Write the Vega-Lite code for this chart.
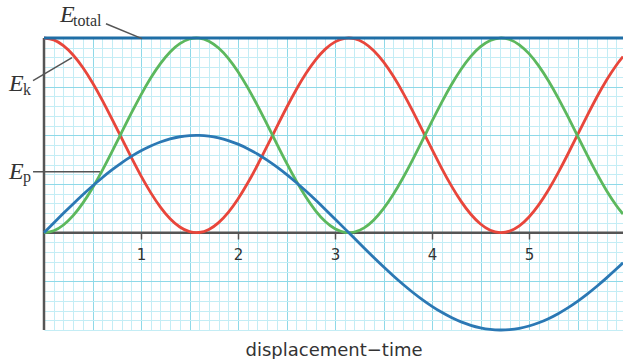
{
  "$schema": "https://vega.github.io/schema/vega-lite/v6.json",
  "width": 579,
  "height": 292,
  "autosize": {"type": "none"},
  "padding": {"left": 44, "top": 38, "right": 0, "bottom": 29},
  "background": "white",
  "config": {"view": {"stroke": null}},
  "datasets": {
    "curve": [
      {"x": 0.0, "ek": 2.0, "ep": 0.0, "d": 0.0},
      {"x": 0.1, "ek": 1.9801, "ep": 0.0199, "d": 0.0998},
      {"x": 0.2, "ek": 1.921, "ep": 0.079, "d": 0.1987},
      {"x": 0.3, "ek": 1.8254, "ep": 0.1746, "d": 0.2955},
      {"x": 0.4, "ek": 1.6967, "ep": 0.3033, "d": 0.3894},
      {"x": 0.5, "ek": 1.5403, "ep": 0.4597, "d": 0.4794},
      {"x": 0.6, "ek": 1.3625, "ep": 0.6375, "d": 0.5646},
      {"x": 0.7, "ek": 1.17, "ep": 0.83, "d": 0.6442},
      {"x": 0.8, "ek": 0.9707, "ep": 1.0293, "d": 0.7174},
      {"x": 0.9, "ek": 0.7729, "ep": 1.2271, "d": 0.7833},
      {"x": 1.0, "ek": 0.5838, "ep": 1.4162, "d": 0.8415},
      {"x": 1.1, "ek": 0.4115, "ep": 1.5885, "d": 0.8912},
      {"x": 1.2, "ek": 0.2628, "ep": 1.7372, "d": 0.932},
      {"x": 1.3, "ek": 0.1429, "ep": 1.8571, "d": 0.9636},
      {"x": 1.4, "ek": 0.058, "ep": 1.942, "d": 0.9854},
      {"x": 1.5, "ek": 0.01, "ep": 1.99, "d": 0.9975},
      {"x": 1.6, "ek": 0.0016, "ep": 1.9984, "d": 0.9996},
      {"x": 1.7, "ek": 0.0331, "ep": 1.9669, "d": 0.9917},
      {"x": 1.8, "ek": 0.1034, "ep": 1.8966, "d": 0.9738},
      {"x": 1.9, "ek": 0.209, "ep": 1.791, "d": 0.9463},
      {"x": 2.0, "ek": 0.3463, "ep": 1.6537, "d": 0.9093},
      {"x": 2.1, "ek": 0.5098, "ep": 1.4902, "d": 0.8632},
      {"x": 2.2, "ek": 0.6927, "ep": 1.3073, "d": 0.8085},
      {"x": 2.3, "ek": 0.8879, "ep": 1.1121, "d": 0.7457},
      {"x": 2.4, "ek": 1.0874, "ep": 0.9126, "d": 0.6755},
      {"x": 2.5, "ek": 1.2836, "ep": 0.7164, "d": 0.5985},
      {"x": 2.6, "ek": 1.4685, "ep": 0.5315, "d": 0.5155},
      {"x": 2.7, "ek": 1.6347, "ep": 0.3653, "d": 0.4274},
      {"x": 2.8, "ek": 1.7755, "ep": 0.2245, "d": 0.335},
      {"x": 2.9, "ek": 1.8856, "ep": 0.1144, "d": 0.2392},
      {"x": 3.0, "ek": 1.9602, "ep": 0.0398, "d": 0.1411},
      {"x": 3.1, "ek": 1.9965, "ep": 0.0035, "d": 0.0416},
      {"x": 3.2, "ek": 1.9932, "ep": 0.0068, "d": -0.0584},
      {"x": 3.3, "ek": 1.9503, "ep": 0.0497, "d": -0.1577},
      {"x": 3.4, "ek": 1.8694, "ep": 0.1306, "d": -0.2555},
      {"x": 3.5, "ek": 1.7539, "ep": 0.2461, "d": -0.3508},
      {"x": 3.6, "ek": 1.6084, "ep": 0.3916, "d": -0.4425},
      {"x": 3.7, "ek": 1.4386, "ep": 0.5614, "d": -0.5298},
      {"x": 3.8, "ek": 1.2512, "ep": 0.7488, "d": -0.6119},
      {"x": 3.9, "ek": 1.0539, "ep": 0.9461, "d": -0.6878},
      {"x": 4.0, "ek": 0.8545, "ep": 1.1455, "d": -0.7568},
      {"x": 4.1, "ek": 0.6608, "ep": 1.3392, "d": -0.8183},
      {"x": 4.2, "ek": 0.4806, "ep": 1.5194, "d": -0.8716},
      {"x": 4.3, "ek": 0.3212, "ep": 1.6788, "d": -0.9162},
      {"x": 4.4, "ek": 0.1889, "ep": 1.8111, "d": -0.9516},
      {"x": 4.5, "ek": 0.089, "ep": 1.911, "d": -0.9775},
      {"x": 4.6, "ek": 0.0251, "ep": 1.9749, "d": -0.9937},
      {"x": 4.7, "ek": 0.0004, "ep": 1.9996, "d": -0.9999},
      {"x": 4.8, "ek": 0.0152, "ep": 1.9848, "d": -0.9962},
      {"x": 4.9, "ek": 0.0694, "ep": 1.9306, "d": -0.9825},
      {"x": 5.0, "ek": 0.161, "ep": 1.839, "d": -0.9589},
      {"x": 5.1, "ek": 0.2858, "ep": 1.7142, "d": -0.9258},
      {"x": 5.2, "ek": 0.4389, "ep": 1.5611, "d": -0.8835},
      {"x": 5.3, "ek": 0.6146, "ep": 1.3854, "d": -0.8323},
      {"x": 5.4, "ek": 0.8056, "ep": 1.1944, "d": -0.7728},
      {"x": 5.5, "ek": 1.0045, "ep": 0.9955, "d": -0.7055},
      {"x": 5.6, "ek": 1.2029, "ep": 0.7971, "d": -0.6313},
      {"x": 5.7, "ek": 1.3935, "ep": 0.6065, "d": -0.5507},
      {"x": 5.8, "ek": 1.5683, "ep": 0.4317, "d": -0.4646},
      {"x": 5.9, "ek": 1.7204, "ep": 0.2796, "d": -0.3739},
      {"x": 5.969, "ek": 1.809, "ep": 0.191, "d": -0.309}
    ],
    "leaders": [
      {"x": 0.639, "y": 2.147, "x2": 1.01, "y2": 1.993},
      {"x": -0.113, "y": 1.562, "x2": 0.289, "y2": 1.798},
      {"x": -0.113, "y": 0.627, "x2": 0.577, "y2": 0.627}
    ],
    "symbols": [
      {"x": 0.165, "y": 2.168, "text": "E"},
      {"x": -0.361, "y": 1.459, "text": "E"},
      {"x": -0.361, "y": 0.555, "text": "E"}
    ],
    "subscripts": [
      {"x": 0.299, "y": 2.127, "text": "total"},
      {"x": -0.216, "y": 1.418, "text": "k"},
      {"x": -0.216, "y": 0.524, "text": "p"}
    ]
  },
  "encoding": {
    "x": {"field": "x", "type": "quantitative", "scale": {"domain": [0, 5.969], "nice": false, "zero": false}, "axis": null},
    "y": {"field": "y", "type": "quantitative", "scale": {"domain": [-1, 2], "nice": false, "zero": false}, "axis": null}
  },
  "layer": [
    {
      "data": {"name": "curve"},
      "mark": {"type": "point", "opacity": 0},
      "encoding": {
        "x": {"field": "x", "type": "quantitative", "scale": {"domain": [0, 5.969], "nice": false, "zero": false},
          "axis": {"orient": "bottom", "values": [0.1, 0.2, 0.3, 0.4, 0.6, 0.7, 0.8, 0.9, 1.1, 1.2, 1.3, 1.4, 1.6, 1.7, 1.8, 1.9, 2.1, 2.2, 2.3, 2.4, 2.6, 2.7, 2.8, 2.9, 3.1, 3.2, 3.3, 3.4, 3.6, 3.7, 3.8, 3.9, 4.1, 4.2, 4.3, 4.4, 4.6, 4.7, 4.8, 4.9, 5.1, 5.2, 5.3, 5.4, 5.6, 5.7, 5.8, 5.9],
            "grid": true, "gridColor": "#c4edf5", "gridWidth": 1, "labels": false, "ticks": false, "domain": false,
            "title": "displacement\u2212time", "titleFont": "DejaVu Sans", "titleFontSize": 18, "titleFontWeight": "normal", "titleColor": "#333333", "titleBaseline": "alphabetic", "titlePadding": 25}},
        "y": {"field": "d", "type": "quantitative", "scale": {"domain": [-1, 2], "nice": false, "zero": false},
          "axis": {"orient": "left", "values": [-1, -0.9, -0.8, -0.7, -0.6, -0.4, -0.3, -0.2, -0.1, 0.1, 0.2, 0.3, 0.4, 0.6, 0.7, 0.8, 0.9, 1.1, 1.2, 1.3, 1.4, 1.6, 1.7, 1.8, 1.9],
            "grid": true, "gridColor": "#c4edf5", "gridWidth": 1, "labels": false, "ticks": false, "domain": false, "title": null}}
      }
    },
    {
      "data": {"name": "curve"},
      "mark": {"type": "point", "opacity": 0},
      "encoding": {
        "x": {"field": "x", "type": "quantitative", "scale": {"domain": [0, 5.969], "nice": false, "zero": false},
          "axis": {"orient": "bottom", "values": [0.5, 1, 1.5, 2, 2.5, 3, 3.5, 4, 4.5, 5, 5.5],
            "grid": true, "gridColor": "#8fd9e8", "gridWidth": 1, "labels": false, "ticks": false, "domain": false, "title": null}},
        "y": {"field": "d", "type": "quantitative", "scale": {"domain": [-1, 2], "nice": false, "zero": false},
          "axis": {"orient": "left", "values": [-0.5, 0.5, 1, 1.5],
            "grid": true, "gridColor": "#8fd9e8", "gridWidth": 1, "labels": false, "ticks": false, "domain": false, "title": null}}
      }
    },
    {
      "data": {"name": "curve"},
      "mark": {"type": "point", "opacity": 0},
      "encoding": {
        "x": {"field": "x", "type": "quantitative", "scale": {"domain": [0, 5.969], "nice": false, "zero": false},
          "axis": {"orient": "bottom", "offset": -98, "values": [1, 2, 3, 4, 5], "format": "d",
            "grid": false, "domain": false, "ticks": true, "tickColor": "#555555", "tickWidth": 1.5, "tickSize": 7,
            "labelFont": "DejaVu Sans", "labelFontSize": 15, "labelColor": "#333333", "labelPadding": 8, "title": null}},
        "y": {"field": "d", "type": "quantitative", "scale": {"domain": [-1, 2], "nice": false, "zero": false}, "axis": null}
      }
    },
    {
      "data": {"values": [{"x": 0, "x2": 5.969, "y": 0}]},
      "mark": {"type": "rule", "color": "#555555", "strokeWidth": 2.5},
      "encoding": {"x2": {"field": "x2"}}
    },
    {
      "data": {"values": [{"x": 0, "y": -1, "y2": 2}]},
      "mark": {"type": "rule", "color": "#555555", "strokeWidth": 2.5},
      "encoding": {"y2": {"field": "y2"}}
    },
    {
      "data": {"name": "curve"},
      "transform": [{"fold": ["ek", "ep", "d"], "as": ["series", "y"]}],
      "mark": {"type": "line", "interpolate": "natural", "strokeWidth": 2.8},
      "encoding": {
        "color": {"field": "series", "type": "nominal",
          "scale": {"domain": ["ek", "ep", "d"], "range": ["#e8463b", "#5cb85d", "#2b78b4"]}, "legend": null},
        "detail": {"field": "series"}
      }
    },
    {
      "data": {"values": [{"x": 0, "x2": 5.969, "y": 2}]},
      "mark": {"type": "rule", "color": "#1f6ea6", "strokeWidth": 3},
      "encoding": {"x2": {"field": "x2"}}
    },
    {
      "data": {"name": "leaders"},
      "mark": {"type": "rule", "color": "#555555", "strokeWidth": 1.5},
      "encoding": {"x2": {"field": "x2"}, "y2": {"field": "y2"}}
    },
    {
      "data": {"name": "symbols"},
      "mark": {"type": "text", "font": "Liberation Serif", "fontStyle": "italic", "fontSize": 24, "color": "#333333", "align": "left", "baseline": "alphabetic"},
      "encoding": {"text": {"field": "text"}}
    },
    {
      "data": {"name": "subscripts"},
      "mark": {"type": "text", "font": "Liberation Serif", "fontSize": 16, "color": "#333333", "align": "left", "baseline": "alphabetic"},
      "encoding": {"text": {"field": "text"}}
    }
  ],
  "resolve": {"axis": {"x": "independent", "y": "independent"}}
}
